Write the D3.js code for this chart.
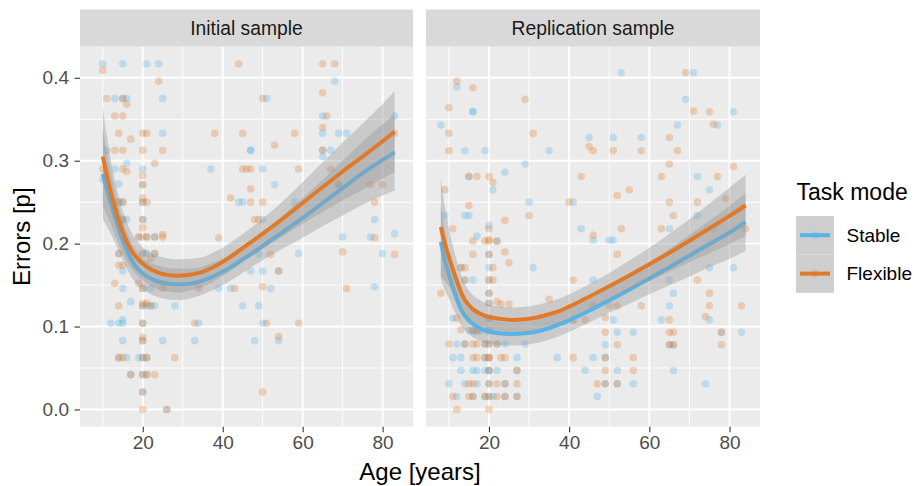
<!DOCTYPE html>
<html>
<head>
<meta charset="utf-8">
<script src="https://cdn.jsdelivr.net/npm/d3@7"></script>
<style>
  body { margin: 0; background: #ffffff; }
  svg { display: block; }
  text { font-family: "Liberation Sans", Arial, Helvetica, sans-serif; }
</style>
</head>
<body>
<svg id="chart" width="914" height="486"></svg>
<script>
// ---- data -------------------------------------------------------------
const panelNames = ["Initial sample", "Replication sample"];
const modeNames = ["Stable", "Flexible"];
const ageTicks = [20, 40, 60, 80];
const ageMinor = [10, 30, 50, 70];
const errTicks = [0, 0.1, 0.2, 0.3, 0.4];
const errMinor = [0.05, 0.15, 0.25, 0.35];

// individual participants: [age, error proportion]
const initialStable = [
  [10,0.417],[15,0.417],[21,0.417],[24,0.417],[13,0.375],[15,0.375],[16,0.375],[25,0.375],[51,0.375],
  [68,0.396],[65,0.354],[83,0.354],[25,0.333],[65,0.333],[69,0.333],[71,0.333],
  [11,0.3125],[47,0.3125],[47,0.3125],[65,0.3125],[67,0.3125],[65,0.305],[16,0.297],
  [13,0.29],[20,0.29],[37,0.29],[50,0.29],[10,0.277],[14,0.272],[20,0.271],[53,0.271],[69,0.271],
  [44,0.25],[45,0.25],[58,0.25],[14,0.25],[15,0.25],[20,0.25],
  [15,0.229],[16,0.229],[20,0.229],[50,0.229],[78,0.229],
  [19,0.208],[21,0.208],[23,0.208],[70,0.208],[77,0.208],[83,0.212],
  [14,0.188],[20,0.188],[21,0.188],[23,0.188],[49,0.187],[59,0.188],[80,0.188],
  [15,0.167],[47,0.167],[50,0.167],[54,0.167],
  [15,0.146],[20,0.146],[22,0.146],[39,0.146],[42,0.146],[52,0.146],[78,0.148],
  [17,0.13],[20,0.125],[21,0.125],[22,0.125],[23,0.125],[28,0.125],[45,0.125],[49,0.125],
  [12,0.104],[14,0.104],[15,0.108],[15,0.104],[20,0.104],[34,0.104],[50,0.104],
  [15,0.083],[20,0.083],[25,0.083],[33,0.083],[48,0.083],[54,0.083],
  [14,0.0625],[16,0.0625],[19,0.0625],[20,0.0625],[21,0.0625],
  [17,0.042],[20,0.042],[21,0.042],[20,0.021],[26,0]
];
const initialFlexible = [
  [10,0.409],[44,0.417],[65,0.417],[68,0.417],[24,0.396],[65,0.382],
  [11,0.375],[15,0.375],[50,0.375],[16,0.368],[13,0.354],[15,0.354],[66,0.354],[65,0.34],
  [14,0.333],[20,0.333],[21,0.333],[38,0.333],[45,0.333],[58,0.333],[83,0.333],
  [17,0.326],[53,0.319],[13,0.3125],[15,0.3125],[20,0.3125],[25,0.3125],[65,0.3125],
  [23,0.297],[10,0.29],[15,0.29],[16,0.287],[45,0.29],[46,0.29],[47,0.29],[59,0.29],[67,0.29],
  [20,0.282],[20,0.271],[69,0.271],[77,0.271],[80,0.271],[47,0.266],[42,0.255],[20,0.255],
  [14,0.25],[15,0.25],[20,0.25],[21,0.25],[47,0.25],[50,0.25],[78,0.25],
  [15,0.229],[20,0.229],[48,0.229],[49,0.229],[20,0.219],
  [19,0.208],[20,0.208],[21,0.208],[23,0.208],[25,0.211],[25,0.208],[39,0.207],[78,0.207],
  [14,0.188],[20,0.188],[23,0.188],[22,0.182],[52,0.187],[70,0.19],[83,0.187],
  [14,0.174],[15,0.174],[54,0.167],
  [13,0.152],[19,0.152],[20,0.146],[25,0.146],[34,0.146],[43,0.146],[50,0.148],[71,0.146],
  [14,0.125],[20,0.125],[20,0.128],[21,0.128],[22,0.125],
  [20,0.104],[33,0.104],[51,0.104],[59,0.104],[20,0.087],[20,0.083],[54,0.088],
  [14,0.0625],[15,0.0625],[20,0.0625],[21,0.0625],[28,0.0625],
  [17,0.042],[20,0.042],[21,0.042],[23,0.042],[20,0.021],[50,0.021],[20,0],[26,0]
];
const replicationStable = [
  [53,0.406],[71,0.406],[12,0.389],[69,0.374],[16,0.359],[16,0.359],[81,0.359],
  [8,0.343],[67,0.343],[77,0.343],[45,0.328],[51,0.328],[58,0.328],
  [14,0.312],[19,0.312],[35,0.312],[29,0.296],[15,0.281],[24,0.286],[72,0.281],
  [21,0.265],[75,0.265],[30,0.25],[41,0.25],[9,0.234],[14,0.234],[15,0.234],[72,0.234],
  [20,0.222],[43,0.218],[65,0.218],[76,0.218],[17,0.209],[50,0.204],[51,0.204],[22,0.203],[46,0.204],
  [20,0.187],[31,0.171],[75,0.171],[81,0.171],[13,0.171],[20,0.171],
  [14,0.156],[16,0.156],[20,0.156],[46,0.156],[65,0.156],[20,0.14],[66,0.14],
  [20,0.128],[65,0.125],[11,0.11],[20,0.11],[51,0.108],[63,0.108],[75,0.108],[41,0.108],
  [15,0.095],[16,0.095],[17,0.095],[18,0.095],[20,0.095],[52,0.093],[56,0.093],[78,0.093],[83,0.093],
  [12,0.079],[14,0.079],[19,0.079],[20,0.079],[22,0.079],[24,0.079],[29,0.079],[49,0.078],[65,0.078],[66,0.078],
  [11,0.0625],[13,0.0625],[19,0.0625],[20,0.0625],[27,0.0625],[37,0.0625],[46,0.0625],[49,0.0625],
  [13,0.047],[16,0.047],[17,0.047],[19,0.047],[20,0.047],[20,0.047],[22,0.047],[27,0.047],[44,0.047],[52,0.047],[66,0.047],
  [10,0.031],[14,0.031],[17,0.031],[20,0.031],[24,0.031],[49,0.031],[52,0.031],[56,0.031],[74,0.031],
  [12,0.0156],[16,0.0156],[19,0.0156],[20,0.0156],[21,0.0156],[24,0.0156],[27,0.0156],[47,0.0156]
];
const replicationFlexible = [
  [69,0.406],[12,0.396],[16,0.388],[29,0.374],[10,0.364],[71,0.36],[75,0.359],[76,0.344],
  [10,0.333],[31,0.333],[45,0.317],[65,0.328],[10,0.312],[46,0.312],[51,0.312],[58,0.312],[67,0.312],
  [65,0.296],[81,0.293],[15,0.281],[17,0.281],[20,0.281],[43,0.281],[63,0.281],[77,0.281],[21,0.274],
  [9,0.265],[55,0.265],[52,0.258],[79,0.254],[15,0.246],[40,0.25],[65,0.25],[72,0.25],
  [30,0.234],[66,0.234],[24,0.228],[11,0.218],[20,0.218],[53,0.218],[63,0.218],[84,0.218],[46,0.21],
  [16,0.203],[19,0.203],[20,0.205],[20,0.203],[22,0.203],[16,0.187],[20,0.187],[24,0.19],[52,0.187],
  [25,0.177],[14,0.171],[13,0.171],[21,0.171],[14,0.156],[20,0.156],[21,0.156],[41,0.156],[72,0.156],
  [8,0.14],[20,0.14],[75,0.14],[35,0.133],[22,0.13],[23,0.127],[25,0.127],[20,0.128],
  [46,0.125],[50,0.125],[52,0.125],[58,0.125],[75,0.125],[83,0.125],
  [12,0.11],[20,0.11],[41,0.108],[44,0.108],[49,0.111],[65,0.108],[74,0.112],
  [13,0.096],[16,0.095],[17,0.095],[20,0.095],[49,0.093],[65,0.093],[66,0.093],[78,0.093],
  [10,0.079],[14,0.079],[16,0.079],[17,0.079],[19,0.079],[20,0.079],[22,0.079],[52,0.078],[65,0.078],[66,0.078],[78,0.078],
  [16,0.0625],[17,0.0625],[19,0.0625],[20,0.0625],[20,0.0625],[23,0.0625],[24,0.0625],[41,0.0625],[49,0.0625],[56,0.0625],
  [20,0.047],[27,0.047],[49,0.047],[56,0.047],
  [15,0.031],[16,0.031],[20,0.031],[22,0.031],[24,0.031],[27,0.031],[47,0.031],[49,0.031],[52,0.031],
  [11,0.0156],[15,0.0156],[16,0.0156],[19,0.0156],[20,0.0156],[22,0.0156],[24,0.0156],[27,0.0156],
  [12,0],[20,0]
];

// smoothed trends with their standard-error half widths
const initialFitAge = [10,11,12,13,14,15,16,17,18,20,22,24,26,28,30,32,35,40,45,50,55,60,65,70,75,80,83];
const initialStableFit = [0.284,0.266,0.249,0.233,0.218,0.204,0.192,0.182,0.174,0.164,0.158,0.154,0.152,0.151,0.151,0.152,0.1555,0.166,0.181,0.197,0.214,0.231,0.249,0.267,0.285,0.301,0.310];
const initialStableSE  = [0.055,0.045,0.037,0.031,0.027,0.024,0.022,0.021,0.020,0.019,0.019,0.019,0.019,0.019,0.019,0.018,0.017,0.016,0.016,0.017,0.020,0.024,0.028,0.033,0.038,0.043,0.046];
const initialFlexibleFit = [0.305,0.283,0.262,0.244,0.228,0.214,0.202,0.193,0.186,0.176,0.169,0.1648,0.1623,0.1612,0.1615,0.1628,0.166,0.178,0.1945,0.212,0.230,0.249,0.268,0.287,0.305,0.3235,0.335];
const initialFlexibleSE  = [0.060,0.048,0.039,0.033,0.029,0.026,0.024,0.022,0.021,0.020,0.020,0.020,0.020,0.020,0.020,0.019,0.018,0.017,0.017,0.018,0.021,0.025,0.030,0.035,0.040,0.045,0.049];

const replicationFitAge = [8,9,10,11,12,13,14,16,18,20,23,26,29,32,35,38,40,45,50,55,60,65,70,75,80,84];
const replicationStableFit = [0.202,0.180,0.163,0.147,0.133,0.121,0.113,0.103,0.097,0.094,0.0915,0.091,0.0918,0.094,0.098,0.1035,0.1075,0.119,0.1315,0.1445,0.158,0.1715,0.1855,0.1995,0.2135,0.226];
const replicationStableSE  = [0.045,0.036,0.029,0.024,0.021,0.019,0.017,0.016,0.015,0.015,0.014,0.014,0.014,0.014,0.014,0.014,0.014,0.014,0.015,0.017,0.019,0.022,0.025,0.028,0.032,0.035];
const replicationFlexibleFit = [0.220,0.200,0.184,0.169,0.155,0.142,0.132,0.121,0.115,0.1115,0.109,0.108,0.1088,0.111,0.1148,0.1195,0.124,0.136,0.1485,0.1615,0.175,0.189,0.2035,0.2185,0.2335,0.246];
const replicationFlexibleSE  = [0.060,0.045,0.035,0.028,0.024,0.021,0.019,0.017,0.016,0.015,0.015,0.015,0.015,0.015,0.015,0.015,0.015,0.015,0.016,0.018,0.020,0.023,0.026,0.030,0.034,0.037];

// ---- layout -----------------------------------------------------------
const modeColor = { Stable: "#56B4E9", Flexible: "#E07A2A" };
const panelBox = [
  { x0: 80, x1: 413 },
  { x0: 426, x1: 760 }
];
const plotTop = 46.7, plotBottom = 426.7, stripTop = 9.5;

const panels = [
  {
    name: panelNames[0],
    points: { Stable: initialStable, Flexible: initialFlexible },
    fits: [
      { mode: "Stable", age: initialFitAge, fit: initialStableFit, se: initialStableSE },
      { mode: "Flexible", age: initialFitAge, fit: initialFlexibleFit, se: initialFlexibleSE }
    ]
  },
  {
    name: panelNames[1],
    points: { Stable: replicationStable, Flexible: replicationFlexible },
    fits: [
      { mode: "Stable", age: replicationFitAge, fit: replicationStableFit, se: replicationStableSE },
      { mode: "Flexible", age: replicationFitAge, fit: replicationFlexibleFit, se: replicationFlexibleSE }
    ]
  }
];

const svg = d3.select("#chart");
const y = d3.scaleLinear().domain([-0.0208, 0.4375]).range([plotBottom, plotTop]);
const smooth = d3.curveCatmullRom.alpha(0.5);

panels.forEach((p, i) => {
  const box = panelBox[i];
  const x = d3.scaleLinear().domain([4.3, 87.6]).range([box.x0, box.x1]);
  const g = svg.append("g");

  // strip
  g.append("rect").attr("x", box.x0).attr("y", stripTop)
    .attr("width", box.x1 - box.x0).attr("height", plotTop - stripTop)
    .attr("fill", "#D9D9D9");
  g.append("text").attr("x", (box.x0 + box.x1) / 2).attr("y", (stripTop + plotTop) / 2 + 6.8)
    .attr("text-anchor", "middle").attr("font-size", 19.3).attr("fill", "#1A1A1A")
    .text(p.name);

  // panel background and grid
  g.append("rect").attr("x", box.x0).attr("y", plotTop)
    .attr("width", box.x1 - box.x0).attr("height", plotBottom - plotTop)
    .attr("fill", "#EBEBEB");
  const grid = g.append("g").attr("stroke", "#ffffff").attr("fill", "none");
  grid.selectAll("line.vm").data(ageMinor).join("line")
    .attr("x1", d => x(d)).attr("x2", d => x(d)).attr("y1", plotTop).attr("y2", plotBottom)
    .attr("stroke-width", 0.9);
  grid.selectAll("line.hm").data(errMinor).join("line")
    .attr("y1", d => y(d)).attr("y2", d => y(d)).attr("x1", box.x0).attr("x2", box.x1)
    .attr("stroke-width", 0.9);
  grid.selectAll("line.vM").data(ageTicks).join("line")
    .attr("x1", d => x(d)).attr("x2", d => x(d)).attr("y1", plotTop).attr("y2", plotBottom)
    .attr("stroke-width", 1.9);
  grid.selectAll("line.hM").data(errTicks).join("line")
    .attr("y1", d => y(d)).attr("y2", d => y(d)).attr("x1", box.x0).attr("x2", box.x1)
    .attr("stroke-width", 1.9);

  // participants
  const pts = g.append("g");
  modeNames.forEach(m => {
    pts.selectAll(null).data(p.points[m]).join("circle")
      .attr("cx", d => x(d[0])).attr("cy", d => y(d[1])).attr("r", 3.8)
      .attr("fill", modeColor[m]).attr("fill-opacity", 0.3);
  });

  // smooth trends: ribbon then line, one group after the other
  p.fits.forEach(f => {
    const rows = f.age.map((a, k) => ({ a, v: f.fit[k], s: f.se[k] }));
    const area = d3.area().curve(smooth)
      .x(d => x(d.a)).y0(d => y(d.v - d.s)).y1(d => y(d.v + d.s));
    const line = d3.line().curve(smooth)
      .x(d => x(d.a)).y(d => y(d.v));
    g.append("path").attr("d", area(rows)).attr("fill", "#999999").attr("fill-opacity", 0.4);
    g.append("path").attr("d", line(rows)).attr("fill", "none")
      .attr("stroke", modeColor[f.mode]).attr("stroke-width", 4);
  });

  // x axis
  const xa = g.append("g").attr("transform", `translate(0,${plotBottom})`)
    .call(d3.axisBottom(x).tickValues(ageTicks).tickSize(5.5).tickPadding(3).tickFormat(d3.format("d")));
  xa.select(".domain").remove();
  xa.selectAll("line").attr("stroke", "#333333").attr("stroke-width", 1.1);
  xa.selectAll("text").attr("font-size", 19).attr("fill", "#4D4D4D")
    .attr("font-family", "Liberation Sans, Arial, sans-serif");

  if (i === 0) {
    const ya = g.append("g").attr("transform", `translate(${box.x0},0)`)
      .call(d3.axisLeft(y).tickValues(errTicks).tickSize(5.5).tickPadding(5.5).tickFormat(d3.format(".1f")));
    ya.select(".domain").remove();
    ya.selectAll("line").attr("stroke", "#333333").attr("stroke-width", 1.1);
    ya.selectAll("text").attr("font-size", 19).attr("fill", "#4D4D4D")
      .attr("font-family", "Liberation Sans, Arial, sans-serif");
  }
});

// axis titles
svg.append("text").attr("x", (panelBox[0].x0 + panelBox[1].x1) / 2).attr("y", 480)
  .attr("text-anchor", "middle").attr("font-size", 24).attr("fill", "#000")
  .text("Age [years]");
svg.append("text").attr("transform", `translate(30,${(plotTop + plotBottom) / 2}) rotate(-90)`)
  .attr("text-anchor", "middle").attr("font-size", 24).attr("fill", "#000")
  .text("Errors [p]");

// legend
const lg = svg.append("g").attr("transform", "translate(796,0)");
lg.append("text").attr("x", 0.5).attr("y", 200).attr("font-size", 23).attr("fill", "#000")
  .text("Task mode");
modeNames.forEach((m, k) => {
  const ky = 216 + k * 38.4;
  lg.append("rect").attr("x", 0).attr("y", ky).attr("width", 38).attr("height", 38.4).attr("fill", "#F2F2F2");
  lg.append("rect").attr("x", 0).attr("y", ky).attr("width", 38).attr("height", 38.4)
    .attr("fill", "#999999").attr("fill-opacity", 0.4);
  lg.append("circle").attr("cx", 19).attr("cy", ky + 19.2).attr("r", 3.8)
    .attr("fill", modeColor[m]).attr("fill-opacity", 0.3);
  lg.append("line").attr("x1", 4).attr("x2", 34).attr("y1", ky + 19.2).attr("y2", ky + 19.2)
    .attr("stroke", modeColor[m]).attr("stroke-width", 4);
  lg.append("text").attr("x", 50.5).attr("y", ky + 19.2 + 6.8).attr("font-size", 19).attr("fill", "#000")
    .text(m);
});
</script>
</body>
</html>
